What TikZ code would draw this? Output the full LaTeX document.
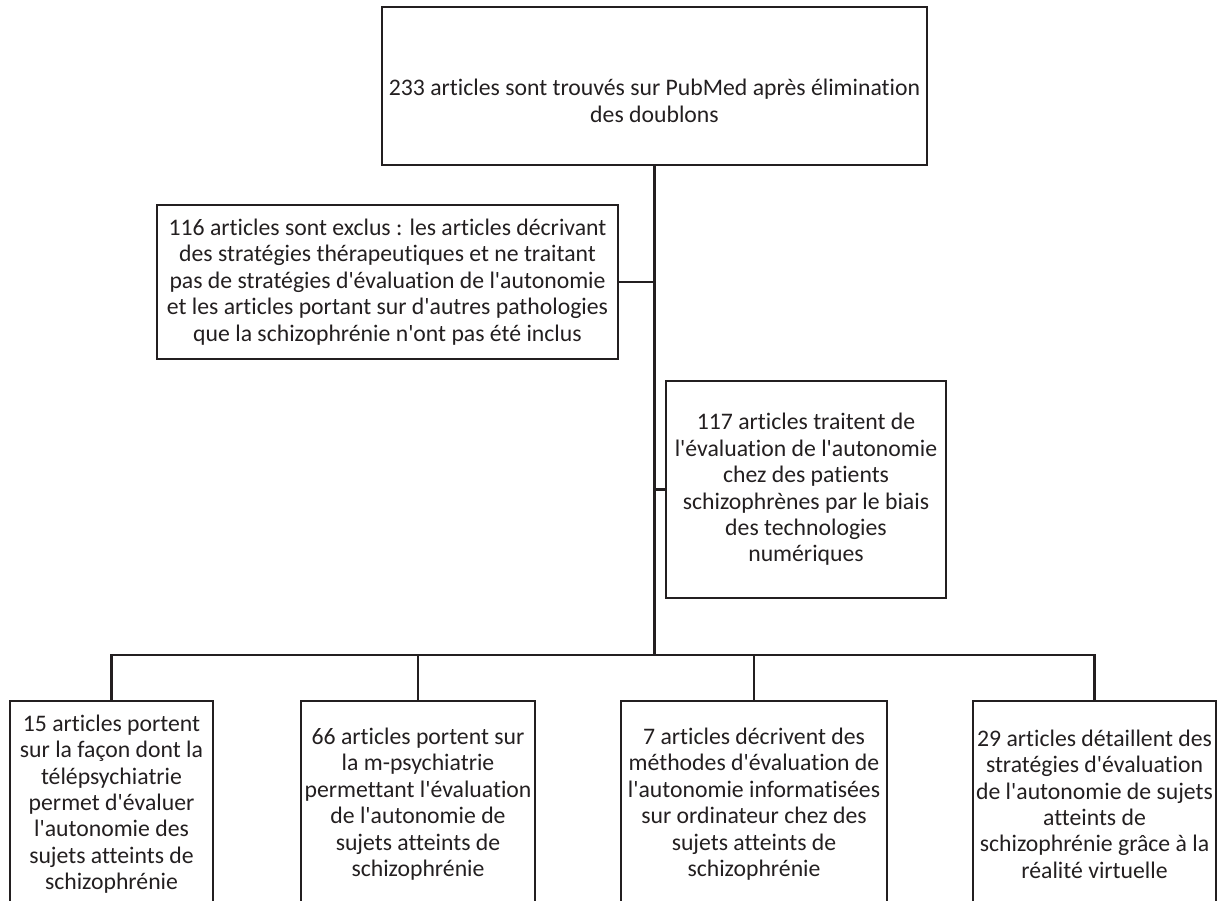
\documentclass[tikz,border=0pt]{standalone}
\usepackage{fontspec}
\newfontfamily\boxfont{Carlito}[Ligatures=NoCommon]
\usepackage{xcolor}
\usetikzlibrary{positioning}
\definecolor{inkgray}{RGB}{35,31,32}

\begin{document}
\begin{tikzpicture}[
  flowbox/.style={draw=inkgray, line width=1.3pt, align=center, inner sep=0pt,
    text=inkgray, font=\boxfont\fontsize{13.5}{15}\selectfont},
  leaf/.style={flowbox, anchor=north, minimum height=4.12cm},
  link/.style={draw=inkgray, line width=1.3pt}
]
  \useasboundingbox (0,0) rectangle (24.5,-18.02);
  \clip (0,0) rectangle (24.5,-18.02);
  \node[flowbox, minimum width=10.9cm, minimum height=3.16cm,
    label={[align=center, text=inkgray, font=\boxfont\fontsize{13.5}{15}\selectfont, yshift=-0.3cm]center:233 articles sont trouvés sur PubMed après élimination\\des doublons}] (Found) at (13.09,-1.72) {};
  \node[flowbox, minimum width=9.22cm, minimum height=3.08cm] (Excl) at (7.75,-5.64)
    {116 articles sont exclus : les articles décrivant\\des stratégies thérapeutiques et ne traitant\\pas de stratégies d'évaluation de l'autonomie\\et les articles portant sur d'autres pathologies\\que la schizophrénie n'ont pas été inclus};
  \node[flowbox, minimum width=5.6cm, minimum height=4.34cm] (Eval) at (16.12,-9.79)
    {117 articles traitent de\\l'évaluation de l'autonomie\\chez des patients\\schizophrènes par le biais\\des technologies\\numériques};
  \coordinate (Hub) at (13.09,-13.1);
  \node[leaf, minimum width=4.06cm] (Tele) at (2.23,-14.0)
    {15 articles portent\\sur la façon dont la\\télépsychiatrie\\permet d'évaluer\\l'autonomie des\\sujets atteints de\\schizophrénie};
  \node[leaf, minimum width=4.68cm] (Mpsy) at (8.36,-14.0)
    {66 articles portent sur\\la m-psychiatrie\\permettant l'évaluation\\de l'autonomie de\\sujets atteints de\\schizophrénie};
  \node[leaf, minimum width=5.32cm] (Info) at (15.08,-14.0)
    {7 articles décrivent des\\méthodes d'évaluation de\\l'autonomie informatisées\\sur ordinateur chez des\\sujets atteints de\\schizophrénie};
  \node[leaf, minimum width=4.86cm] (Virt) at (21.89,-14.0)
    {29 articles détaillent des\\stratégies d'évaluation\\de l'autonomie de sujets\\atteints de\\schizophrénie grâce à la\\réalité virtuelle};
  \draw[link] (Found.south) -- (Hub);
  \draw[link] (Excl.east) -- (Excl.east -| Hub);
  \draw[link] (Eval.west) -- (Eval.west -| Hub);
  \draw[link] (Tele.north) |- (Hub) -| (Virt.north);
  \draw[link] (Mpsy.north) -- (Mpsy.north |- Hub);
  \draw[link] (Info.north) -- (Info.north |- Hub);
\end{tikzpicture}
\end{document}
